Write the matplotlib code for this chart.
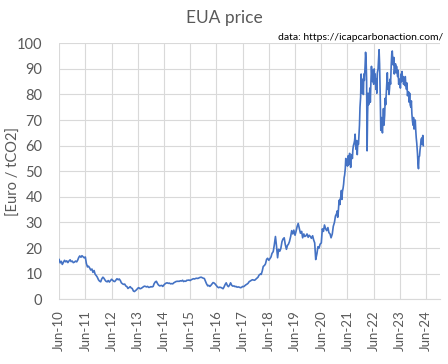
import matplotlib
matplotlib.use("Agg")
import matplotlib.pyplot as plt
import pandas as pd

plt.rcParams['font.family'] = ['Lato', 'DejaVu Sans']

# semi-monthly EUA price samples (1st and 15th of each month)
p2010 = [15.5, 14.2, 14.8, 13.6, 14.5, 15.2, 14.6, 15.0, 14.3, 14.9, 15.4, 14.7, 14.9, 14.3]
p2011 = [14.5, 14.9, 14.6, 15.3, 16.3, 16.9, 16.4, 17.0, 16.6, 16.2, 16.5, 14.0,
         12.6, 12.9, 12.2, 11.4, 11.8, 10.5, 11.2, 9.8, 9.2, 8.6, 7.6, 7.1]
p2012 = [6.8, 7.9, 8.6, 8.2, 7.5, 7.0, 6.8, 7.3, 6.7, 7.2, 7.8, 7.4,
         7.0, 6.9, 7.5, 8.0, 7.6, 7.9, 7.3, 6.4, 6.0, 5.8, 5.9, 5.2]
p2013 = [4.9, 4.2, 4.6, 4.9, 4.4, 4.2, 3.2, 3.0, 3.4, 3.7, 4.3, 4.5,
         4.1, 4.2, 4.5, 4.8, 5.1, 5.0, 4.8, 5.0, 4.6, 4.7, 4.9, 4.8]
p2014 = [5.0, 6.1, 6.8, 7.0, 6.2, 5.6, 5.2, 5.3, 5.4, 5.0, 5.6, 6.0,
         6.3, 6.4, 6.2, 6.3, 6.0, 6.1, 6.0, 6.4, 6.7, 6.9, 7.0, 7.0]
p2015 = [7.0, 7.2, 7.1, 7.4, 6.9, 7.1, 7.0, 7.4, 7.4, 7.5, 7.3, 7.6,
         7.8, 8.0, 7.9, 8.1, 8.2, 8.1, 8.3, 8.5, 8.6, 8.4, 8.2, 8.1]
p2016 = [7.0, 6.0, 5.2, 5.4, 5.0, 5.4, 6.0, 6.5, 6.3, 5.9, 5.3, 4.8,
         4.5, 4.7, 4.6, 4.4, 4.1, 4.8, 5.8, 6.4, 5.3, 4.9, 5.5, 6.4]
p2017 = [5.4, 5.1, 5.2, 4.9, 5.0, 4.7, 4.8, 4.7, 4.5, 4.6, 5.0, 4.9,
         5.3, 5.6, 5.9, 6.2, 6.9, 7.1, 7.4, 7.6, 7.5, 7.4, 7.8, 8.1]
p2018 = [8.6, 9.4, 9.8, 9.7, 11.0, 12.8, 13.2, 13.8, 15.6, 16.0, 15.2, 15.8,
         16.5, 17.9, 18.6, 21.0, 24.5, 21.0, 16.2, 19.5, 18.8, 19.8, 22.5, 23.5]
p2019 = [24.0, 21.5, 19.5, 21.0, 21.5, 22.5, 24.5, 26.8, 25.5, 27.0, 25.0, 26.5,
         28.5, 29.6, 27.5, 25.8, 26.5, 24.0, 25.5, 24.5, 24.8, 25.5, 24.2, 25.0]
p2020 = [24.5, 23.8, 24.8, 23.2, 22.0, 15.5, 17.8, 20.5, 20.0, 21.5, 22.0, 27.5,
         26.5, 29.0, 27.5, 26.8, 28.0, 26.0, 25.5, 24.0, 25.5, 28.5, 30.0, 32.5]

# weekly-ish samples (1st, 8th, 15th, 22nd of each month) for the volatile years
w2021 = [33.5, 34.5, 32.0, 33.5, 37.5, 38.8, 37.0, 39.5, 40.0, 42.5, 39.0, 42.0,
         43.5, 45.0, 47.5, 48.5, 51.0, 55.0, 52.5, 53.5, 52.0, 56.0, 52.5, 55.0,
         57.0, 54.0, 51.5, 54.5, 56.5, 55.0, 58.5, 60.0, 61.0, 62.0, 64.5, 60.0,
         58.5, 62.0, 56.5, 61.0, 60.5, 64.0, 68.0, 75.0, 79.0, 88.0, 80.5, 86.0]
w2022 = [84.0, 80.0, 88.0, 85.5, 91.0, 96.5, 93.5, 86.0, 58.0, 72.0, 80.5, 76.0,
         78.0, 82.5, 77.0, 84.0, 91.0, 87.0, 85.0, 89.5, 84.0, 90.0, 85.0, 88.0,
         82.0, 86.0, 80.5, 88.5, 90.0, 93.5, 97.5, 92.0, 78.0, 66.0, 71.0, 67.5,
         65.0, 70.0, 74.5, 68.0, 72.0, 78.5, 76.0, 80.0, 86.0, 88.5, 82.0, 84.5]
w2023 = [80.0, 82.5, 86.0, 84.0, 92.0, 96.0, 97.0, 93.0, 91.5, 94.5, 88.0, 90.0,
         92.0, 88.5, 91.0, 89.0, 87.0, 89.5, 84.0, 85.5, 86.0, 82.5, 88.0, 85.0,
         89.0, 85.5, 87.0, 84.0, 86.0, 83.5, 87.0, 84.0, 82.0, 84.5, 79.5, 81.0,
         81.0, 77.0, 80.5, 76.0, 75.0, 77.5, 72.5, 70.0, 68.0, 71.0, 66.5, 67.0]
w2024 = [70.0, 66.0, 63.0, 61.0, 57.0, 53.0, 51.0, 55.5, 56.0, 58.5, 60.0, 62.5,
         63.0, 60.5, 64.0, 60.0]

early = (p2010 + p2011 + p2012 + p2013 + p2014 + p2015 + p2016 + p2017
         + p2018 + p2019 + p2020)
late = w2021 + w2022 + w2023 + w2024

early_dates = pd.date_range("2010-06-01", periods=len(early), freq="SMS")
months = pd.date_range("2021-01-01", periods=len(late) // 4, freq="MS")
late_dates = [m + pd.Timedelta(days=d) for m in months for d in (0, 7, 14, 21)]

dates = list(early_dates) + late_dates
price = early + late

tick_years = list(range(2010, 2025))

grey = "#595959"
fig = plt.figure(figsize=(4.48, 3.64), dpi=100)
ax = fig.add_axes([0.132, 0.178, 0.85, 0.703])

ax.plot(dates, price, color="#4472C4", lw=1.2)

ax.set_ylim(0, 100)
ax.set_yticks(range(0, 101, 10))
ax.set_xlim(pd.Timestamp("2010-06-01"), pd.Timestamp("2024-12-10"))
ticks = [pd.Timestamp(f"{y}-06-01") for y in tick_years]
ax.set_xticks(ticks)
ax.set_xticklabels([f"Jun-{y % 100:02d}" for y in tick_years], rotation=90)
ax.tick_params(axis="y", length=0, labelsize=10.5, colors=grey, pad=12)
ax.tick_params(axis="x", length=0, labelsize=9.5, colors=grey, pad=8)

ax.grid(True, color="#d9d9d9", lw=0.8)
ax.set_axisbelow(True)
for s in ["top", "right", "left"]:
    ax.spines[s].set_visible(False)
ax.spines["bottom"].set_color("#d9d9d9")

ax.set_ylabel("[Euro / tCO2]", fontsize=10.5, color=grey)
ax.yaxis.set_label_coords(-0.100, 0.5)
fig.text(0.5, 0.95, "EUA price", ha="center", va="center", fontsize=12.5, color=grey)
fig.text(0.99, 0.898, "data: https://icapcarbonaction.com/", ha="right",
         va="center", fontsize=7.5, color="black")

fig.savefig("out.png", dpi=100)
